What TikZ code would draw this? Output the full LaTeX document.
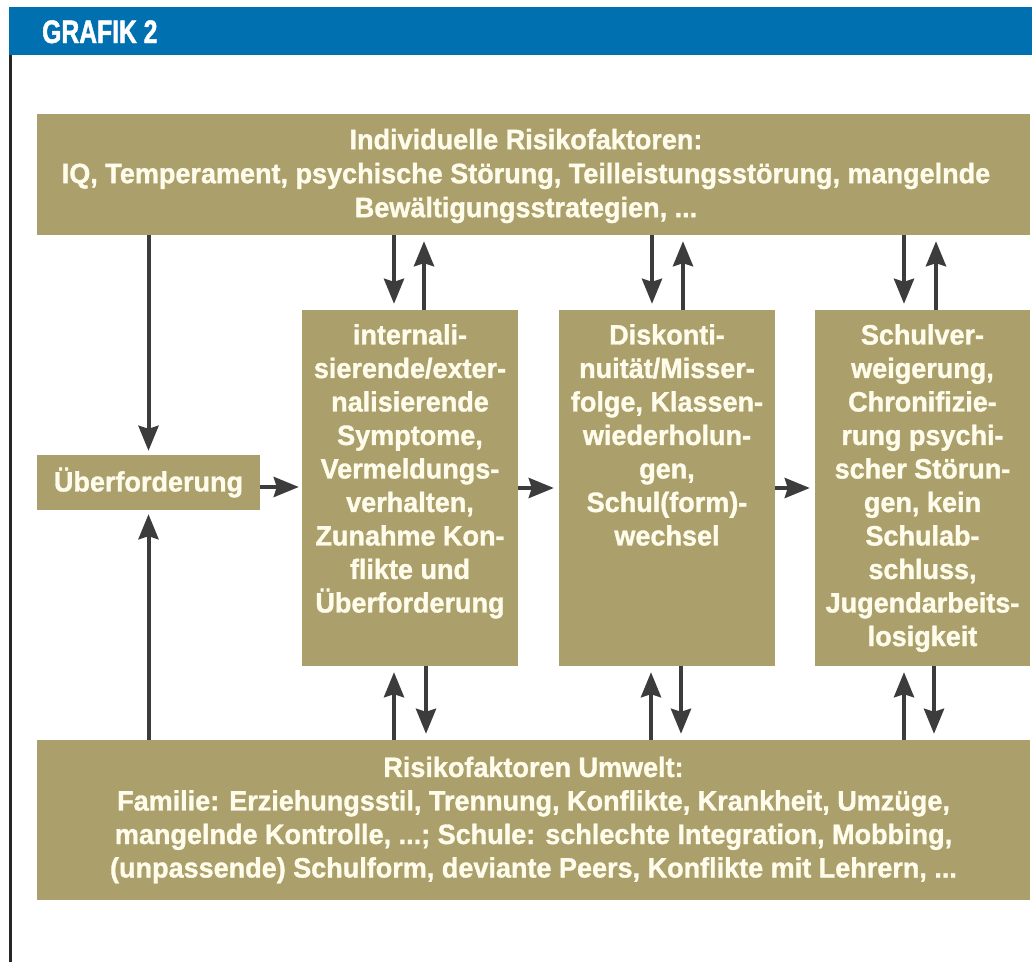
\documentclass[tikz,border=0pt]{standalone}
\usepackage{fontspec}
\usetikzlibrary{arrows.meta}
\newfontfamily\cond{Liberation Sans}[FakeStretch=0.965, BoldFeatures={FakeBold=1.2}]
\newfontfamily\titlefont{Liberation Sans}[FakeStretch=0.76, BoldFeatures={FakeBold=1.5}]
\definecolor{hdblue}{HTML}{0070B0}
\definecolor{olive}{HTML}{ABA06C}
\definecolor{cream}{HTML}{FFFCEB}
\definecolor{arrgrey}{HTML}{3C3C3C}
\tikzset{
  box/.style={fill=olive, draw=none, inner sep=0pt, text=cream, align=center,
    font=\cond\bfseries\fontsize{28bp}{34bp}\selectfont},
  boxtxt/.style={inner sep=0pt, text=cream, align=center,
    font=\cond\bfseries\fontsize{28bp}{33.5bp}\selectfont},
  arr/.style={draw=arrgrey, line width=4bp,
    -{Stealth[length=25bp,width=20bp,inset=3bp]}, shorten >=6bp},
}
\begin{document}
\begin{tikzpicture}[x=1bp,y=-1bp]
\useasboundingbox (0,0) rectangle (1032,962);
\fill[white] (0,0) rectangle (1032,962);
% header
\fill[hdblue] (9,7) rectangle (1032,55);
\node[anchor=base west, inner sep=0pt, text=white,
  font=\titlefont\bfseries\fontsize{32.5bp}{32.5bp}\selectfont] (title) at (42,43) {GRAFIK 2};
\fill[black!85] (9,55) rectangle (11.5,962);
% boxes
\node[box, minimum width=993bp, minimum height=121bp] (top) at (533.5,174.5) {};
\node[box, anchor=center] (toptxt) at (526,176)
  {Individuelle Risikofaktoren:\\IQ, Temperament, psychische Störung, Teilleistungsstörung, mangelnde\\Bewältigungsstrategien, ...};
\node[box, minimum width=223bp, minimum height=55bp] (ueb) at (148.5,482.5) {Überforderung};
\node[box, minimum width=216bp, minimum height=356bp] (b1) at (410,488) {};
\node[box, minimum width=216bp, minimum height=356bp] (b2) at (667,488) {};
\node[box, minimum width=215bp, minimum height=356bp] (b3) at (922.5,488) {};
\node[box, minimum width=993bp, minimum height=160bp,
  font=\cond\bfseries\fontsize{28bp}{33.5bp}\selectfont] (bot) at (533.5,820)
  {Risikofaktoren Umwelt:\\Familie: Erziehungsstil, Trennung, Konflikte, Krankheit, Umzüge,\\mangelnde Kontrolle, ...; Schule: schlechte Integration, Mobbing,\\(unpassende) Schulform, deviante Peers, Konflikte mit Lehrern, ...};
% box texts
\node[boxtxt, anchor=north] (t1) at (410,324)
  {internali-\\sierende/exter-\\nalisierende\\Symptome,\\Vermeldungs-\\verhalten,\\Zunahme Kon-\\flikte und\\Überforderung};
\node[boxtxt, anchor=north] (t2) at (667,324)
  {Diskonti-\\nuität/Misser-\\folge, Klassen-\\wiederholun-\\gen,\\Schul(form)-\\wechsel};
\node[boxtxt, anchor=north] (t3) at (922.5,324)
  {Schulver-\\weigerung,\\Chronifizie-\\rung psychi-\\scher Störun-\\gen, kein\\Schulab-\\schluss,\\Jugendarbeits-\\losigkeit};
% arrows to Überforderung
\draw[arr, shorten >=4bp] (top.south -| ueb.north) -- (ueb.north);
\draw[arr, shorten >=4bp] (bot.north -| ueb.south) -- (ueb.south);
% horizontal arrows
\draw[arr, shorten >=3bp] (ueb.east |- 0,487) -- (b1.west |- 0,487);
\draw[arr, shorten >=5bp] (b1.east) -- (b2.west);
\draw[arr, shorten >=5bp] (b2.east) -- (b3.west);
% top pairs
\draw[arr] ([xshift=-16bp]b1.north |- top.south) -- ([xshift=-16bp]b1.north);
\draw[arr] ([xshift=14bp]b1.north) -- ([xshift=14bp]b1.north |- top.south);
\draw[arr] ([xshift=-15bp]b2.north |- top.south) -- ([xshift=-15bp]b2.north);
\draw[arr] ([xshift=16bp]b2.north) -- ([xshift=16bp]b2.north |- top.south);
\draw[arr] ([xshift=-18.5bp]b3.north |- top.south) -- ([xshift=-18.5bp]b3.north);
\draw[arr] ([xshift=13.5bp]b3.north) -- ([xshift=13.5bp]b3.north |- top.south);
% bottom pairs
\draw[arr] ([xshift=-16bp]b1.south |- bot.north) -- ([xshift=-16bp]b1.south);
\draw[arr] ([xshift=16bp]b1.south) -- ([xshift=16bp]b1.south |- bot.north);
\draw[arr] ([xshift=-16bp]b2.south |- bot.north) -- ([xshift=-16bp]b2.south);
\draw[arr] ([xshift=14bp]b2.south) -- ([xshift=14bp]b2.south |- bot.north);
\draw[arr] ([xshift=-18.5bp]b3.south |- bot.north) -- ([xshift=-18.5bp]b3.south);
\draw[arr] ([xshift=11.5bp]b3.south) -- ([xshift=11.5bp]b3.south |- bot.north);
\end{tikzpicture}
\end{document}
